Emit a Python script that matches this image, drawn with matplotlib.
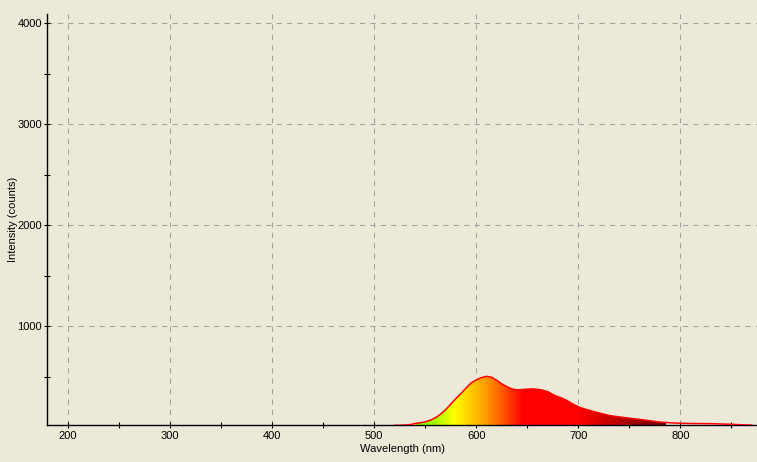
import numpy as np
import matplotlib
matplotlib.use("Agg")
import matplotlib.pyplot as plt
from matplotlib.colors import LinearSegmentedColormap
from matplotlib.ticker import MultipleLocator

# spectrum (nm, counts)
wavelength_nm = [520, 530, 536, 540, 545, 550, 555, 560, 565, 570, 575, 580, 585,
                 590, 595, 600, 605, 610, 615, 620, 625, 630, 635, 640, 645, 650,
                 655, 660, 665, 670, 675, 680, 685, 690, 695, 700, 705, 710, 715,
                 720, 725, 730, 735, 740, 745, 750, 755, 760, 765, 770, 775, 780,
                 785, 790, 800, 810, 820, 830, 840, 850, 860, 870]
intensity_counts = [20, 22, 28, 38, 45, 55, 70, 95, 130, 175, 230, 285, 335,
                    390, 440, 470, 492, 505, 495, 465, 430, 402, 380, 370, 374, 378,
                    380, 376, 368, 352, 325, 302, 285, 258, 228, 203, 185, 170, 156,
                    143, 130, 118, 110, 103, 97, 90, 84, 78, 72, 65, 58, 52,
                    48, 45, 40, 38, 37, 36, 33, 30, 25, 22]

x_ticks = [200, 300, 400, 500, 600, 700, 800]
y_ticks = [1000, 2000, 3000, 4000]

# colour of the fill by wavelength
color_stops = [(540, "#60ff00"), (560, "#a8ff00"), (578, "#ffff00"), (595, "#ffc800"),
               (610, "#ff9600"), (625, "#ff5a00"), (645, "#ff0000"), (700, "#ff0000"),
               (740, "#b40000"), (785, "#6e0000")]

BG = "#ECE9D8"
plt.rcParams["font.family"] = ["Liberation Sans", "DejaVu Sans"]

fig = plt.figure(figsize=(7.57, 4.62), dpi=100, facecolor=BG)
ax = fig.add_axes([47 / 757, 37 / 462, 710 / 757, 411 / 462], facecolor=BG)

wl = np.array(wavelength_nm, dtype=float)
counts = np.array(intensity_counts, dtype=float)

lo, hi = color_stops[0][0], color_stops[-1][0]
cmap = LinearSegmentedColormap.from_list(
    "spec", [((w - lo) / (hi - lo), c) for w, c in color_stops])

# gradient image clipped to the area under the spectrum
poly = ax.fill_between(wl, counts, 0, facecolor="none", edgecolor="none")
im = ax.imshow(np.linspace(0, 1, 512).reshape(1, -1), cmap=cmap, aspect="auto",
               extent=(lo, hi, 0, 700), zorder=2, interpolation="bilinear")
im.set_clip_path(poly.get_paths()[0], transform=ax.transData)
ax.plot(wl, counts, color="#ff0000", lw=1.1, zorder=3)
ax.set_xlim(179.4, 875)
ax.set_ylim(23, 4092)

ax.set_xticks(x_ticks)
ax.set_yticks(y_ticks)
ax.xaxis.set_minor_locator(MultipleLocator(50))
ax.yaxis.set_minor_locator(MultipleLocator(500))
ax.tick_params(which="both", direction="inout", length=5, width=0.8, colors="black",
               labelsize=8)
ax.tick_params(axis="y", pad=1)
ax.tick_params(axis="x", pad=2)

ax.set_axisbelow(True)
ax.grid(True, which="major", color="#a0a0a0", linestyle=(0, (5, 5)), linewidth=0.75)

for side in ("top", "right"):
    ax.spines[side].set_visible(False)
for side in ("left", "bottom"):
    ax.spines[side].set_linewidth(1.0)

ax.set_xlabel("Wavelength (nm)", fontsize=8, labelpad=2)
ax.set_ylabel("Intensity (counts)", fontsize=8, labelpad=0)

plt.savefig("out.png", dpi=100, facecolor=BG)
plt.close()
